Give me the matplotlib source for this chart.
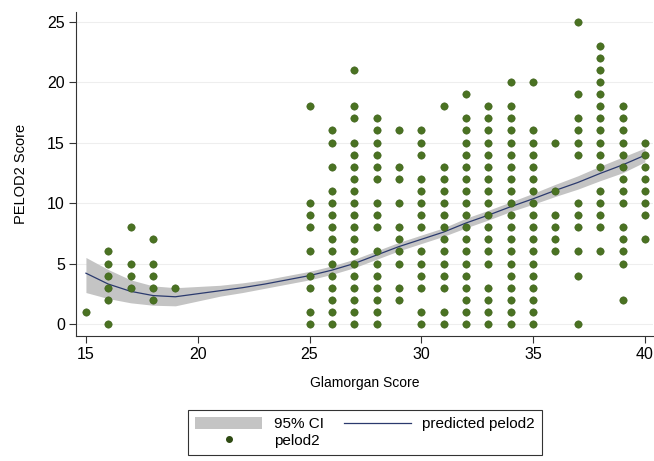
import numpy as np
import matplotlib.pyplot as plt
from matplotlib.patches import Patch
from matplotlib.lines import Line2D

plt.rcParams['font.family'] = ['Liberation Sans', 'DejaVu Sans']

# observed pelod2 values for each Glamorgan score
pelod2_by_glam = {
    15: [1],
    16: [6, 5, 4, 3, 2, 0],
    17: [8, 5, 4, 3],
    18: [7, 5, 4, 3, 2],
    19: [3],
    25: [18, 10, 9, 8, 6, 4, 3, 1, 0],
    26: [16, 15, 13, 11, 10, 9, 8, 7, 6, 5, 4, 3, 2, 1, 0],
    27: [21, 18, 17, 15, 14, 13, 12, 11, 10, 9, 8, 7, 6, 5, 4, 3, 2, 1, 0],
    28: [17, 16, 15, 14, 13, 12, 10, 9, 8, 6, 5, 4, 3, 2, 1, 0],
    29: [16, 13, 12, 10, 8, 7, 6, 5, 3, 2],
    30: [16, 15, 14, 12, 11, 10, 9, 8, 6, 5, 4, 3, 1, 0],
    31: [18, 13, 12, 11, 10, 9, 8, 7, 6, 5, 4, 3, 1, 0],
    32: [19, 17, 16, 15, 14, 13, 12, 11, 10, 9, 8, 7, 6, 5, 4, 3, 2, 1, 0],
    33: [18, 17, 16, 15, 14, 13, 12, 11, 10, 9, 8, 7, 6, 5, 3, 2, 1, 0],
    34: [20, 18, 17, 16, 15, 14, 13, 12, 11, 10, 9, 8, 7, 6, 5, 4, 3, 2, 1, 0],
    35: [20, 16, 15, 14, 13, 12, 11, 10, 9, 8, 7, 6, 5, 4, 3, 2, 1, 0],
    36: [15, 11, 9, 8, 7, 6],
    37: [25, 19, 17, 16, 15, 14, 10, 9, 8, 6, 4, 0],
    38: [23, 22, 21, 20, 19, 18, 17, 16, 15, 14, 13, 11, 10, 9, 8, 6],
    39: [18, 17, 16, 15, 14, 13, 12, 11, 10, 8, 7, 6, 5, 2],
    40: [15, 14, 13, 12, 11, 10, 9, 7],
}

# fitted curve with 95% CI
fit_x = [15, 16, 17, 18, 19, 20, 21, 22, 23, 24, 25, 26, 27, 28,
         29, 30, 31, 32, 33, 34, 35, 36, 37, 38, 39, 40]
fit_y = [4.2, 3.3, 2.7, 2.35, 2.25, 2.5, 2.75, 3.0, 3.3, 3.65, 4.0, 4.45, 5.0, 5.7,
         6.4, 7.0, 7.6, 8.35, 9.0, 9.7, 10.35, 11.05, 11.7, 12.45, 13.15, 13.95]
fit_lo = [2.6, 2.1, 1.75, 1.55, 1.5, 1.9, 2.3, 2.6, 2.95, 3.3, 3.65, 4.1, 4.65, 5.35,
          6.05, 6.65, 7.25, 7.95, 8.6, 9.3, 9.9, 10.55, 11.15, 11.85, 12.5, 13.4]
fit_hi = [5.5, 4.5, 3.65, 3.15, 3.0, 3.1, 3.2, 3.4, 3.65, 4.0, 4.35, 4.8, 5.35, 6.05,
          6.75, 7.35, 7.95, 8.75, 9.4, 10.1, 10.8, 11.55, 12.25, 13.05, 13.8, 14.55]

xs, ys = [], []
for g, vals in pelod2_by_glam.items():
    xs += [g] * len(vals)
    ys += vals

fig = plt.figure(figsize=(6.54, 4.61), dpi=100)
ax = fig.add_axes([0.116, 0.271, 0.882, 0.703])

ax.fill_between(fit_x, fit_lo, fit_hi, color='#c4c4c4', linewidth=0, zorder=1)
ax.plot(fit_x, fit_y, color='#2b3a6e', linewidth=0.9, zorder=2)
ax.scatter(xs, ys, s=28, color='#4a7222', edgecolors='#3d5f1a', linewidths=0.4, zorder=3)

ax.set_xlim(14.55, 40.35)
ax.set_ylim(-1.0, 25.8)
ax.set_xticks([15, 20, 25, 30, 35, 40])
ax.set_yticks([0, 5, 10, 15, 20, 25])
ax.grid(axis='y', color='#eeeeee', linewidth=0.8)
ax.set_axisbelow(True)
for s in ['top', 'right']:
    ax.spines[s].set_visible(False)
ax.spines['left'].set_color('#333333')
ax.spines['bottom'].set_color('#333333')
ax.tick_params(labelsize=11.5, color='#333333', length=5, pad=3)
ax.set_xlabel('Glamorgan Score', fontsize=10, labelpad=10)
ax.set_ylabel('PELOD2 Score', fontsize=10.5, labelpad=14)

handles = [Patch(facecolor='#c4c4c4', edgecolor='none'),
           Line2D([], [], marker='o', linestyle='none', color='#2e4a12', markersize=4),
           Line2D([], [], color='#2b3a6e', linewidth=0.9)]
labels = ['95% CI', 'pelod2', 'predicted pelod2']
leg = fig.legend(handles, labels, ncol=2, loc='upper center', bbox_to_anchor=(0.558, 0.111),
                 borderaxespad=0, fontsize=11, frameon=True, fancybox=False, edgecolor='black',
                 handlelength=4.4, handleheight=0.9, handletextpad=0.75, columnspacing=1.3,
                 borderpad=0.45, labelspacing=0.15)
leg.get_frame().set_linewidth(0.8)

fig.savefig('out.png', dpi=100)
